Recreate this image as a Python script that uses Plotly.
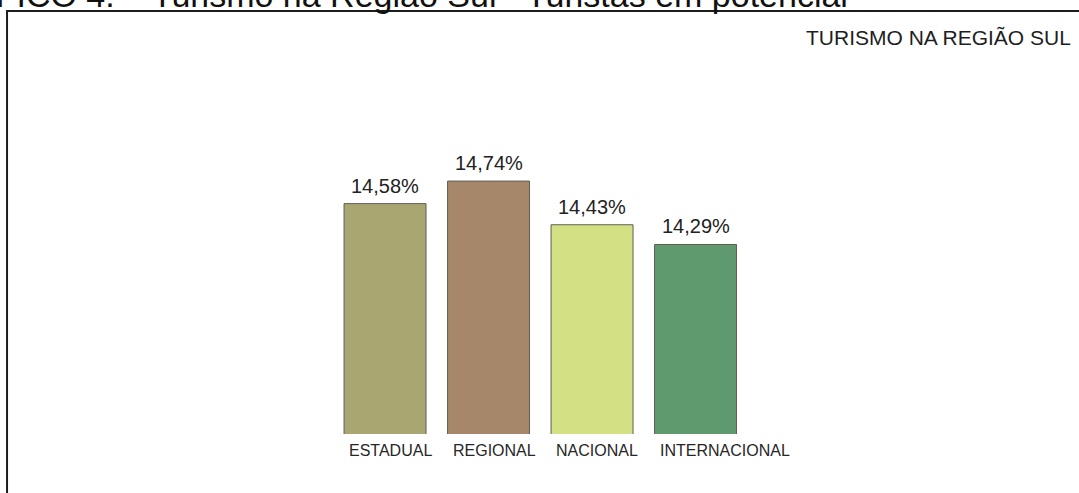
import plotly.graph_objects as go

# Tourism in the southern region: share of potential tourists by origin
categorias = ["ESTADUAL", "REGIONAL", "NACIONAL", "INTERNACIONAL"]
percentuais = [14.58, 14.74, 14.43, 14.29]
cores = ["#A9A672", "#A6876A", "#D3E083", "#5F9A6E"]

titulo = "GRÁFICO 4. – Turismo na Região Sul - Turistas em potencial"
rotulo_quadro = "TURISMO NA REGIÃO SUL"

FONTE = "Liberation Sans, Arial, sans-serif"


def rotulo_pct(v):
    return f"{v:.2f}".replace(".", ",") + "%"


idx = list(range(len(categorias)))

fig = go.Figure(
    go.Bar(
        x=idx,
        y=percentuais,
        marker=dict(color=cores, line=dict(color="#5e5e52", width=1)),
        hoverinfo="skip",
    )
)

anotacoes = []
# value labels above each bar
for i, v in zip(idx, percentuais):
    anotacoes.append(dict(
        x=i, y=v, xref="x", yref="y", text=rotulo_pct(v), showarrow=False,
        xanchor="center", yanchor="bottom", yshift=5,
        font=dict(family=FONTE, size=20, color="#222222"),
    ))
# category names, left-aligned under each bar
for i, c in zip(idx, categorias):
    anotacoes.append(dict(
        x=i, y=-0.040, xref="x", yref="paper", text=c, showarrow=False,
        xanchor="left", yanchor="middle", xshift=-38,
        font=dict(family=FONTE, size=16, color="#262626"),
    ))
# figure caption, partly running off the top edge
anotacoes.append(dict(
    x=-0.0822, y=0.988, xref="paper", yref="paper", text=titulo, showarrow=False,
    xanchor="left", yanchor="bottom",
    font=dict(family=FONTE, size=34, color="#111111"),
))
# label in the upper right corner of the frame
anotacoes.append(dict(
    x=0.9944, y=0.937, xref="paper", yref="paper", text=rotulo_quadro, showarrow=False,
    xanchor="right", yanchor="middle",
    font=dict(family=FONTE, size=21, color="#1e1e1e"),
))

fig.update_layout(
    width=1079, height=493,
    margin=dict(l=8, r=0, t=11, b=59),
    paper_bgcolor="white", plot_bgcolor="rgba(0,0,0,0)",
    showlegend=False,
    bargap=0.208,
    xaxis=dict(range=[-3.643, 6.705], visible=False, fixedrange=True),
    yaxis=dict(range=[12.945, 15.947], visible=False, fixedrange=True),
    annotations=anotacoes,
    shapes=[
        dict(type="line", xref="paper", yref="paper", x0=-0.0009, x1=-0.0009,
             y0=-0.2, y1=1.0, line=dict(color="#1c1c1c", width=2)),
        dict(type="line", xref="paper", yref="paper", x0=-0.0018, x1=1.01,
             y0=1.0, y1=1.0, line=dict(color="#1c1c1c", width=2)),
    ],
)

fig.write_html("out.html", config={"displayModeBar": False})
